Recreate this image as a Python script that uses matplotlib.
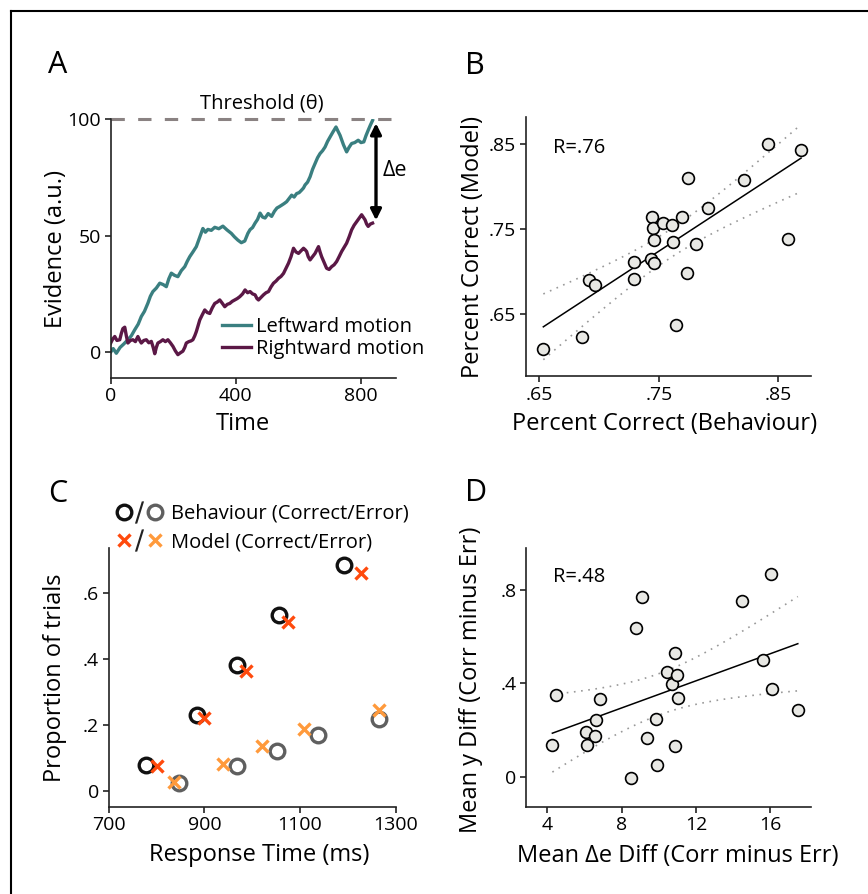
import numpy as np
import matplotlib
matplotlib.use('Agg')
import matplotlib.pyplot as plt
from matplotlib.lines import Line2D
from matplotlib.legend_handler import HandlerTuple

plt.rcParams['font.family'] = ['Open Sans', 'DejaVu Sans']
plt.rcParams['lines.scale_dashes'] = False

# ---------------- A: single-trial evidence traces ----------------
t_left = [0, 8, 18, 30, 42, 55, 66, 77, 88, 98, 108, 119, 127, 135, 146, 157, 168, 178,
          186, 194, 204, 215, 226, 237, 245, 253, 263, 274, 284, 295, 303, 311, 322, 333,
          346, 359, 372, 386, 396, 407, 418, 429, 439, 446, 454, 462, 470, 478, 486, 494,
          504, 515, 524, 532, 540, 547, 555, 563, 571, 579, 587, 595, 603, 611, 617, 622,
          630, 638, 646, 654, 662, 670, 678, 686, 694, 702, 711, 721, 727, 734, 745, 755,
          763, 771, 781, 792, 801, 810, 817, 824, 831, 838]
ev_left = [0, 1.5, -0.5, 2, 3.5, 5.3, 7, 9.6, 12, 15.3, 17.5, 21, 24, 26, 27.5, 29.6, 29,
           28.1, 31.5, 33.9, 33, 32.4, 35, 36.7, 39, 41, 43, 45.3, 49, 53.1, 51.5, 52.7,
           52.3, 53.6, 53, 54.1, 52.5, 51, 49.5, 48.1, 47, 47.7, 51, 52.6, 53.5, 55.4, 57,
           59.7, 58, 57.6, 59.5, 58.3, 60.5, 61.9, 62.5, 63.1, 63.8, 64.6, 66, 67.4, 66.6,
           68.1, 68.5, 69.6, 70.5, 71.8, 73, 75.3, 78.5, 81, 83.5, 85.3, 86.5, 88.1, 90.5,
           92.4, 94.5, 96.7, 95, 93.1, 89, 86, 88, 89.6, 90, 91, 90, 90.3, 93, 95.3, 97.5, 99.5]

t_right = [0, 6, 13, 20, 29, 34, 39, 45, 50, 55, 63, 71, 79, 87, 93, 98, 106, 114, 122, 130,
           136, 141, 146, 151, 159, 167, 175, 183, 191, 199, 207, 215, 223, 231, 237, 242,
           250, 257, 263, 269, 274, 280, 285, 293, 301, 309, 317, 325, 333, 341, 349, 357,
           365, 373, 381, 389, 397, 405, 413, 422, 430, 438, 446, 454, 462, 468, 473, 481,
           489, 497, 505, 513, 521, 529, 537, 545, 553, 561, 569, 577, 585, 593, 601, 609,
           617, 622, 627, 632, 638, 646, 654, 660, 665, 670, 675, 683, 691, 699, 707, 715,
           723, 731, 739, 747, 755, 763, 771, 779, 787, 795, 803, 808, 814, 819, 824, 831, 838]
ev_right = [3.9, 5.5, 6.7, 5, 5.3, 8, 10.1, 10.7, 7, 3.9, 5, 5.3, 4.5, 6.7, 5, 3.9, 5, 5.3,
            4, 4.6, 2, -0.7, 2, 3.9, 4.5, 5.3, 4.5, 5.3, 4, 2.5, 0.5, -1.1, -0.3, 0.4, 2,
            3.9, 4.5, 4.8, 5.3, 7, 8.8, 11.5, 13.8, 16, 18.1, 17, 16.6, 19, 20.9, 21.5, 22.4,
            21, 19.5, 20.5, 20.9, 21.8, 22.4, 23, 23.8, 25, 26.7, 25.5, 26, 25, 24.6, 23,
            22.4, 23.5, 24.6, 25.5, 26, 28, 29.6, 30.5, 31.7, 32.5, 33.8, 36, 38.2, 41, 44.6,
            43, 42.4, 43.5, 44.6, 44, 43.2, 41, 39.6, 41, 42.4, 44, 45.3, 43, 41, 38.5, 36,
            35.5, 36.7, 37.5, 38.9, 41, 43.2, 45, 46.8, 49.5, 52.5, 54.5, 56, 57.5, 59, 58,
            56.8, 55, 54, 55, 55.4]
threshold = 100

# ---------------- B: accuracy, model vs behaviour ----------------
pc_behav = [.6533, .6857, .6916, .6969, .7292, .7295, .7440, .7454, .7462, .7432, .7462, .7538,
            .7613, .7616, .7697, .7747, .7733, .7808, .7914, .8213, .8416, .8690, .8584, .7641]
pc_model = [.6084, .6233, .6904, .6841, .7108, .6916, .7637, .7516, .7371, .7147, .7096, .7575,
            .7543, .7343, .7637, .8096, .6986, .7324, .7751, .8076, .8496, .8429, .7382, .6375]

# ---------------- C: RT distributions ----------------
rt_beh_corr = [777, 884, 968, 1057, 1191]
p_beh_corr = [.077, .229, .380, .533, .683]
rt_beh_err = [846, 968, 1051, 1138, 1265]
p_beh_err = [.024, .073, .121, .168, .218]
rt_mod_corr = [800, 900, 986, 1074, 1228]
p_mod_corr = [.073, .220, .364, .512, .660]
rt_mod_err = [836, 938, 1021, 1108, 1265]
p_mod_err = [.026, .081, .134, .187, .243]

# ---------------- D: y diff vs delta-e diff ----------------
de_diff = [4.27, 4.47, 6.07, 6.14, 6.55, 6.64, 6.84, 8.51, 8.76, 9.12, 9.39, 9.84, 9.93, 10.45,
           10.74, 10.86, 10.99, 11.02, 10.90, 14.47, 15.62, 16.04, 16.11, 17.49]
y_diff = [.138, .351, .195, .136, .176, .244, .335, -.001, .635, .767, .169, .250, .053, .450,
          .396, .529, .438, .340, .135, .753, .499, .867, .378, .286]

TEAL = '#3a7f80'
PLUM = '#5b1846'
FACE = '#e8e8e4'
RED = '#ff4a0d'
ORANGE = '#ff9a3c'
GREY = '#5f5f5f'

W, H = 868, 894
fig = plt.figure(figsize=(W / 100, H / 100), dpi=100)


def box(l, r, t, b):
    return [l / W, 1 - b / H, (r - l) / W, (b - t) / H]


def style(ax):
    for s in ['top', 'right']:
        ax.spines[s].set_visible(False)
    for s in ['left', 'bottom']:
        ax.spines[s].set_linewidth(1.2)
        ax.spines[s].set_color('#222222')
    ax.tick_params(direction='out', length=4, width=1.2, labelsize=14, pad=3,
                   color='#222222')


def fit_with_ci(ax, x, y, t_crit=2.074):
    x = np.asarray(x)
    y = np.asarray(y)
    b, a = np.polyfit(x, y, 1)
    xx = np.linspace(x.min(), x.max(), 100)
    yy = a + b * xx
    s = np.sqrt(np.sum((y - (a + b * x)) ** 2) / (len(x) - 2))
    se = s * np.sqrt(1 / len(x) + (xx - x.mean()) ** 2 / np.sum((x - x.mean()) ** 2))
    ax.plot(xx, yy, color='k', lw=1.1, zorder=2)
    for sign in (1, -1):
        ax.plot(xx, yy + sign * t_crit * se, color='#999999', lw=1.2,
                ls=(0, (1.2, 4)), zorder=1)


# ---- A
axA = fig.add_axes(box(110.7, 396, 119.3, 377.7))
style(axA)
axA.plot(t_left, ev_left, color=TEAL, lw=2.4, label='Leftward motion')
axA.plot(t_right, ev_right, color=PLUM, lw=2.4, label='Rightward motion')
axA.axhline(threshold, color='#8a8282', lw=2.2, ls=(0, (9.6, 9.6)), clip_on=False)
axA.text(0.53, 1.063, 'Threshold (\u03b8)', transform=axA.transAxes, ha='center',
         va='center', fontsize=14.5)
x_arrow = t_left[-1] + 11
axA.annotate('', xy=(x_arrow, ev_left[-1]), xytext=(x_arrow, ev_right[-1]),
             arrowprops=dict(arrowstyle='<|-|>', color='k', lw=2.4, mutation_scale=16,
                             shrinkA=2, shrinkB=2))
axA.text(x_arrow + 22, (ev_left[-1] + ev_right[-1]) / 2 + 0.5, '\u0394e', ha='left',
         va='center', fontsize=15.5)
axA.set_xlim(0, 913)
axA.set_ylim(-11, 100)
axA.set_xticks([0, 400, 800])
axA.set_yticks([0, 50, 100])
axA.set_xlabel('Time', fontsize=17)
axA.set_ylabel('Evidence (a.u.)', fontsize=17)
axA.xaxis.set_label_coords(0.462, -0.133)
axA.yaxis.set_label_coords(-0.149, 0.5)
axA.legend(loc='center left', bbox_to_anchor=(0.389, 0.1525), frameon=False,
           handlelength=1.46, handletextpad=0.26, labelspacing=0.1, fontsize=14.5,
           borderpad=0, borderaxespad=0)

# ---- B
axB = fig.add_axes(box(526, 811, 117.3, 376))
style(axB)
fit_with_ci(axB, pc_behav, pc_model)
axB.plot(pc_behav, pc_model, 'o', ms=8.5, mfc=FACE, mec='k', mew=1.2, zorder=3)
axB.set_xlim(.6388, .8773)
axB.set_ylim(.577, .8814)
axB.set_xticks([.65, .75, .85], ['.65', '.75', '.85'])
axB.set_yticks([.65, .75, .85], ['.65', '.75', '.85'])
axB.text(0.095, 0.881, 'R=.76', transform=axB.transAxes, ha='left', va='center',
         fontsize=14.5)
axB.set_xlabel('Percent Correct (Behaviour)', fontsize=17)
axB.set_ylabel('Percent Correct (Model)', fontsize=17)
axB.xaxis.set_label_coords(0.485, -0.139)
axB.yaxis.set_label_coords(-0.144, 0.5)

# ---- C
axC = fig.add_axes(box(108.7, 395.7, 548.3, 806.7))
style(axC)
hc, = axC.plot(rt_beh_corr, p_beh_corr, 'o', ms=10.5, mfc='none', mec='#111111', mew=2.4)
hg, = axC.plot(rt_beh_err, p_beh_err, 'o', ms=10.5, mfc='none', mec=GREY, mew=2.4)
hx, = axC.plot(rt_mod_corr, p_mod_corr, 'x', ms=8.5, mec=RED, mew=2.4)
ho, = axC.plot(rt_mod_err, p_mod_err, 'x', ms=8.5, mec=ORANGE, mew=2.4)
slash = Line2D([], [], marker='$/$', ls='none', color='#222222', ms=16, mew=0)
axC.legend([(hc, slash, hg), (hx, slash, ho)],
           ['Behaviour (Correct/Error)', 'Model (Correct/Error)'],
           handler_map={tuple: HandlerTuple(ndivide=None, pad=0)},
           loc='center left', bbox_to_anchor=(0.0265, 1.0786), frameon=False,
           handlelength=2.3, handletextpad=0.4, labelspacing=0.42, fontsize=14.5,
           borderpad=0, borderaxespad=0)
axC.set_xlim(700, 1300)
axC.set_ylim(-0.049, 0.735)
axC.set_xticks([700, 900, 1100, 1300])
axC.set_yticks([0, .2, .4, .6], ['0', '.2', '.4', '.6'])
axC.set_xlabel('Response Time (ms)', fontsize=17)
axC.set_ylabel('Proportion of trials', fontsize=17)
axC.xaxis.set_label_coords(0.524, -0.14)
axC.yaxis.set_label_coords(-0.145, 0.5)

# ---- D
axD = fig.add_axes(box(526, 811, 548.3, 806.7))
style(axD)
fit_with_ci(axD, de_diff, y_diff)
axD.plot(de_diff, y_diff, 'o', ms=8.5, mfc=FACE, mec='k', mew=1.2, zorder=3)
axD.set_xlim(2.85, 18.2)
axD.set_ylim(-0.125, 0.976)
axD.set_xticks([4, 8, 12, 16])
axD.set_yticks([0, .4, .8], ['0', '.4', '.8'])
axD.text(0.095, 0.89, 'R=.48', transform=axD.transAxes, ha='left', va='center',
         fontsize=14.5)
axD.set_xlabel('Mean \u0394e Diff (Corr minus Err)', fontsize=17)
axD.set_ylabel('Mean y Diff (Corr minus Err)', fontsize=17)
axD.xaxis.set_label_coords(0.534, -0.144)
axD.yaxis.set_label_coords(-0.151, 0.49)

# panel letters
for letter, (px, py) in zip('ABCD', [(48, 65), (465, 66), (48, 494), (465, 493)]):
    fig.text(px / W, 1 - py / H, letter, fontsize=22, ha='left', va='center')

# outer frame (top and left edges only)
fig.add_artist(Line2D([11 / W, 1], [1 - 11 / H] * 2, transform=fig.transFigure,
                      color='k', lw=1.5))
fig.add_artist(Line2D([11 / W] * 2, [0, 1 - 11 / H], transform=fig.transFigure,
                      color='k', lw=1.5))

fig.savefig('out.png', dpi=100)
